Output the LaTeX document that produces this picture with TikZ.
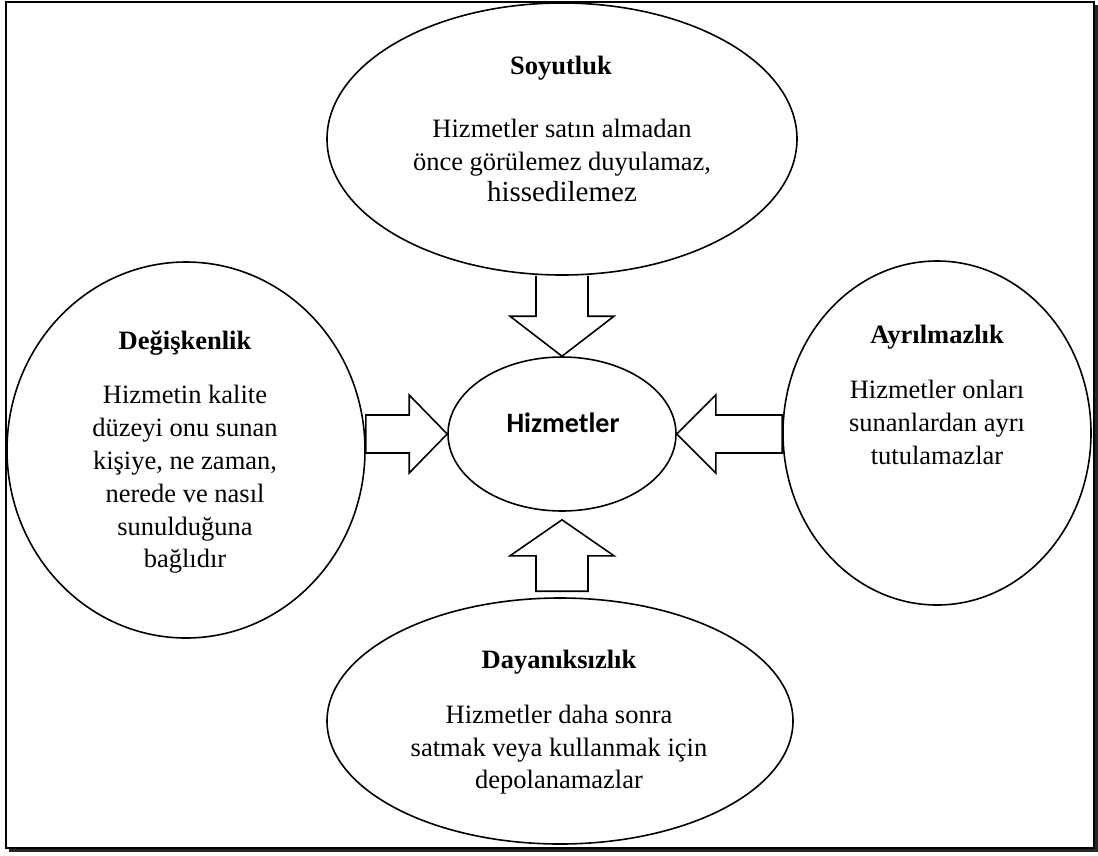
\documentclass[tikz,border=0pt]{standalone}
\usepackage{fontspec}
\setmainfont{Liberation Serif}
\newfontfamily\calibfont{Carlito}
\usetikzlibrary{shapes.geometric,calc}

\begin{document}
\begin{tikzpicture}[x=1pt,y=-1pt,
  oval/.style={draw,ellipse,line width=1.6pt,inner sep=0pt,fill=white},
  title/.style={font=\fontsize{26.5}{33}\selectfont\bfseries,inner sep=0pt,anchor=base},
  body/.style={font=\fontsize{26.5}{33}\selectfont,inner sep=0pt,anchor=base},
  blockarrow/.style={draw,line width=1.6pt,line join=miter}]

\useasboundingbox (0,0) rectangle (1098,855);

% frame with a drop shadow on the right and bottom
\fill[black!85] (9,5) rectangle (1097.5,851.5);
\draw[line width=2pt,fill=white] (6,1.5) rectangle (1094,848);

% ovals
\node[oval,minimum width=470,minimum height=272] (soy) at (562,139) {};
\node[oval,minimum width=358,minimum height=376] (deg) at (186,450) {};
\node[oval,minimum width=308,minimum height=344] (ayr) at (937,433) {};
\node[oval,minimum width=466,minimum height=246] (day) at (560,721) {};
\node[oval,minimum width=228,minimum height=154] (hiz) at (562,434) {};

% centre label
\node[font=\calibfont\bfseries\fontsize{28}{34}\selectfont,anchor=base,inner sep=0pt] (hizT) at (563,432) {Hizmetler};

% Soyutluk
\node[title] (soyT) at (561,74) {Soyutluk};
\node[body] (soy1) at (562,137) {Hizmetler satın almadan};
\node[body] (soy2) at (562,170) {önce görülemez duyulamaz,};
\node[body,font=\fontsize{29}{35}\selectfont] (soy3) at (562,201) {hissedilemez};

% Değişkenlik
\node[title] (degT) at (185,349) {Değişkenlik};
\node[body] (deg1) at (185,403) {Hizmetin kalite};
\node[body] (deg2) at (185,436) {düzeyi onu sunan};
\node[body] (deg3) at (185,469) {kişiye, ne zaman,};
\node[body] (deg4) at (185,502) {nerede ve nasıl};
\node[body] (deg5) at (185,535) {sunulduğuna};
\node[body] (deg6) at (185,567) {bağlıdır};

% Ayrılmazlık
\node[title] (ayrT) at (937,343) {Ayrılmazlık};
\node[body] (ayr1) at (937,398) {Hizmetler onları};
\node[body] (ayr2) at (937,431) {sunanlardan ayrı};
\node[body] (ayr3) at (937,464) {tutulamazlar};

% Dayanıksızlık
\node[title] (dayT) at (559,668) {Dayanıksızlık};
\node[body] (day1) at (559,723) {Hizmetler daha sonra};
\node[body] (day2) at (559,756) {satmak veya kullanmak için};
\node[body] (day3) at (559,788) {depolanamazlar};

% helper points for the block arrows
\coordinate (tA) at (hiz.north |- soy.south);
\coordinate (lA) at (deg.east |- hiz.west);
\coordinate (rA) at (ayr.west |- hiz.east);
\coordinate (bT) at ($(hiz.south)+(0,8)$);
\coordinate (bB) at ($(hiz.south |- day.north)+(0,-6)$);

% top arrow (Soyutluk -> Hizmetler)
\draw[blockarrow] ($(tA)+(-26,0)$) -- ($(hiz.north)+(-26,-40)$) -- ($(hiz.north)+(-52,-40)$)
  -- (hiz.north) -- ($(hiz.north)+(52,-40)$) -- ($(hiz.north)+(26,-40)$) -- ($(tA)+(26,0)$);

% left arrow (Değişkenlik -> Hizmetler)
\draw[blockarrow] ($(lA)+(0,-19)$) -- ($(hiz.west)+(-38,-19)$) -- ($(hiz.west)+(-38,-39)$)
  -- (hiz.west) -- ($(hiz.west)+(-38,39)$) -- ($(hiz.west)+(-38,19)$) -- ($(lA)+(0,19)$) -- cycle;

% right arrow (Ayrılmazlık -> Hizmetler)
\draw[blockarrow] ($(rA)+(0,-19)$) -- ($(hiz.east)+(39,-19)$) -- ($(hiz.east)+(39,-39)$)
  -- (hiz.east) -- ($(hiz.east)+(39,39)$) -- ($(hiz.east)+(39,19)$) -- ($(rA)+(0,19)$) -- cycle;

% bottom arrow (Dayanıksızlık -> Hizmetler)
\draw[blockarrow] ($(bB)+(-26,0)$) -- ($(bT)+(-26,36)$) -- ($(bT)+(-52,36)$)
  -- (bT) -- ($(bT)+(52,36)$) -- ($(bT)+(26,36)$) -- ($(bB)+(26,0)$) -- cycle;

\end{tikzpicture}
\end{document}
